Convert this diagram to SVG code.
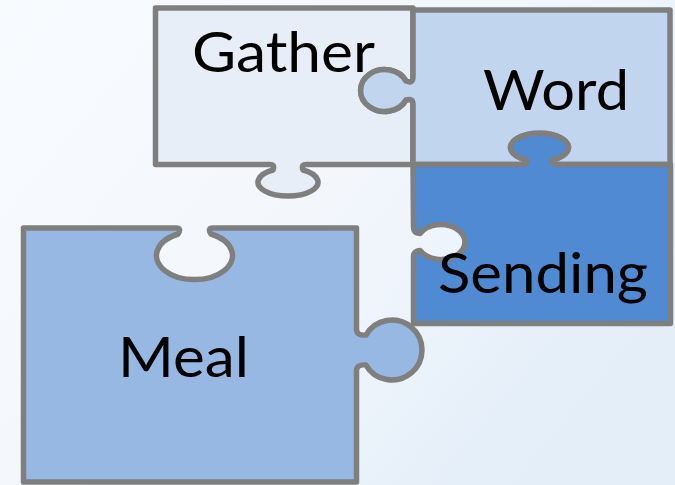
<svg xmlns="http://www.w3.org/2000/svg" width="675" height="485" viewBox="0 0 675 485">
  <defs>
    <linearGradient id="bg" x1="0" y1="0" x2="1" y2="0.6">
      <stop offset="0" stop-color="#f8fbfe"/>
      <stop offset="0.55" stop-color="#f3f7fc"/>
      <stop offset="1" stop-color="#e3eef9"/>
    </linearGradient>
  </defs>
  <style>
    .piece { stroke: #7f7f7f; stroke-width: 5.5; stroke-linejoin: round; }
    .lbl { font-family: "Lato", "Open Sans", "Liberation Sans", sans-serif; font-size: 57px; fill: #000000; }
  </style>
  <rect x="0" y="0" width="675" height="485" fill="url(#bg)"/>

  <g id="gather">
    <path class="piece" fill="#e8eef7" d="M155.5,8 H413 V77 Q413,84 406,81 A24 21 0 1 0 406,100 Q413,98 413,104 V164.5 H306 Q301,164.5 303,170 A30 14 0 1 1 273,170 Q275,164.5 270,164.5 H155.5 Z"/>
  </g>

  <g id="word">
    <path class="piece" fill="#c1d5ee" d="M413,10 H670 V164.5 H558 Q551,164.5 552,160 A29 14 0 1 0 527,160 Q528,164.5 521,164.5 H413 V104 Q413,98 406,100 A24 21 0 1 1 406,81 Q413,84 413,77 Z"/>
  </g>

  <g id="sending">
    <path class="piece" fill="#4f8ad2" d="M413,164.5 H521 Q528,164.5 527,160 A29 14 0 1 1 552,160 Q551,164.5 558,164.5 H670.5 V323.5 H413.5 V257 Q413.5,251 420,250.5 A24 17.5 0 1 0 420,233.5 Q413.5,233 413.5,227 Z"/>
  </g>

  <g id="meal">
    <path class="piece" fill="#97b8e2" d="M23.5,228 H176 Q182,228 178,234 A38 24 0 1 0 211,234 Q207,228 213,228 H356.5 V329 Q356.5,336 366,335 A30 30 0 1 1 366,365 Q356.5,364 356.5,371 V482 H23.5 Z"/>
  </g>

  <g id="labels">
    <text class="lbl" x="192" y="72" textLength="183" lengthAdjust="spacingAndGlyphs">Gather</text>
    <text class="lbl" x="483" y="110" textLength="146" lengthAdjust="spacingAndGlyphs">Word</text>
    <text class="lbl" x="438" y="293" textLength="210" lengthAdjust="spacingAndGlyphs">Sending</text>
    <text class="lbl" x="118" y="377" textLength="131" lengthAdjust="spacingAndGlyphs">Meal</text>
  </g>
</svg>
